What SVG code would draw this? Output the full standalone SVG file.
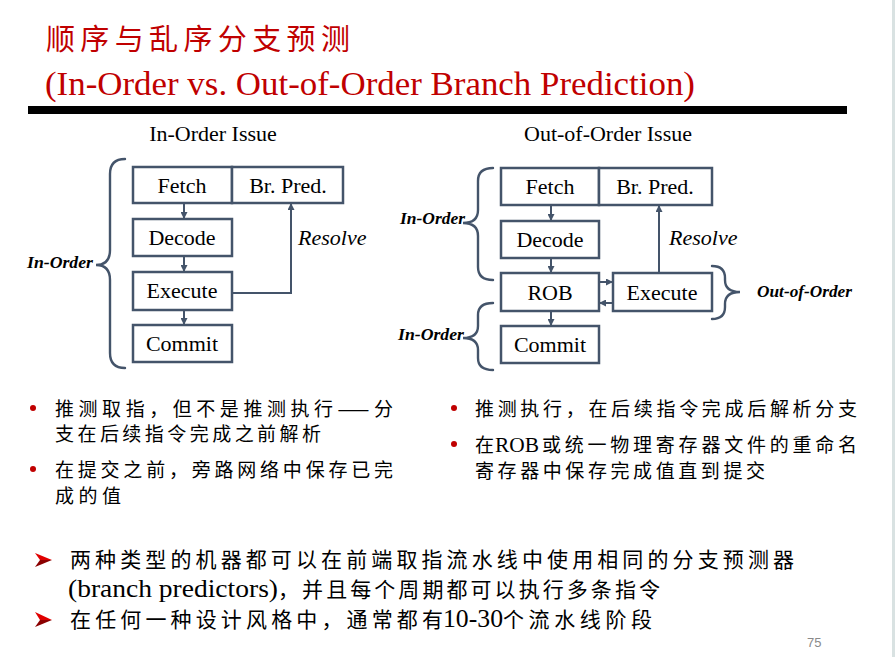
<svg xmlns="http://www.w3.org/2000/svg" width="895" height="657" viewBox="0 0 895 657">
<style>
.cjk{font-family:"Noto Sans CJK SC","Noto Sans CJK JP",sans-serif;fill:#000}
.ser{font-family:"Liberation Serif","Times New Roman",serif;fill:#000}
.box{fill:#fff;stroke:#44546a;stroke-width:2.5}
.lbl{font-family:"Liberation Serif","Times New Roman",serif;font-size:22px;fill:#000;text-anchor:middle}
.conn{fill:none;stroke:#44546a;stroke-width:2}
.brace{fill:none;stroke:#44546a;stroke-width:2.4;stroke-linecap:round}
.bi{font-family:"Liberation Serif","Times New Roman",serif;font-size:17px;font-weight:bold;font-style:italic;fill:#000}
.it{font-family:"Liberation Serif","Times New Roman",serif;font-size:22px;font-style:italic;fill:#000}
.dot{fill:#c00000}
.title{fill:#c00000}
</style>
<defs>
<marker id="ah" viewBox="0 0 8 8" refX="8" refY="4" markerWidth="7" markerHeight="7" markerUnits="userSpaceOnUse" orient="auto">
<path d="M0,0 L8,4 L0,8 z" fill="#44546a"/>
</marker>
</defs>
<rect width="895" height="657" fill="#fff"/>
<rect x="892" y="0" width="3" height="657" fill="#d9e2e2"/>

<g id="title">
<text class="cjk title" x="46" y="50" font-size="29" textLength="304" lengthAdjust="spacing">顺序与乱序分支预测</text>
<text class="ser title" x="45" y="95" font-size="33" textLength="650" lengthAdjust="spacingAndGlyphs">(In-Order vs. Out-of-Order Branch Prediction)</text>
<rect x="28" y="106" width="819" height="8" fill="#000"/>
</g>

<g id="left-diagram">
<text class="lbl" x="213" y="141">In-Order Issue</text>
<g id="l-fetch"><rect class="box" x="133" y="167" width="99" height="36"/><text class="lbl" x="182" y="193">Fetch</text></g>
<g id="l-brpred"><rect class="box" x="232" y="167" width="111" height="36"/><text class="lbl" x="288" y="193">Br. Pred.</text></g>
<g id="l-decode"><rect class="box" x="133" y="219" width="99" height="37"/><text class="lbl" x="182" y="245">Decode</text></g>
<g id="l-execute"><rect class="box" x="133" y="272" width="99" height="38"/><text class="lbl" x="182" y="298">Execute</text></g>
<g id="l-commit"><rect class="box" x="133" y="325" width="99" height="37"/><text class="lbl" x="182" y="351">Commit</text></g>
<g id="l-brace">
<path class="brace" d="M125,159 Q110,159 110,174 L110,250 Q110,265 96,265 Q110,265 110,280 L110,353 Q110,368 125,368"/>
<text class="bi" x="27" y="268" textLength="66" lengthAdjust="spacingAndGlyphs">In-Order</text>
</g>
<text class="it" x="298" y="245">Resolve</text>
</g>

<g id="right-diagram">
<text class="lbl" x="608" y="141">Out-of-Order Issue</text>
<g id="r-fetch"><rect class="box" x="501" y="168" width="98" height="37"/><text class="lbl" x="550" y="194">Fetch</text></g>
<g id="r-brpred"><rect class="box" x="599" y="168" width="113" height="37"/><text class="lbl" x="655" y="194">Br. Pred.</text></g>
<g id="r-decode"><rect class="box" x="501" y="221" width="98" height="37"/><text class="lbl" x="550" y="247">Decode</text></g>
<g id="r-rob"><rect class="box" x="501" y="273" width="98" height="38"/><text class="lbl" x="550" y="300">ROB</text></g>
<g id="r-execute"><rect class="box" x="613" y="273" width="99" height="38"/><text class="lbl" x="662" y="300">Execute</text></g>
<g id="r-commit"><rect class="box" x="501" y="326" width="98" height="37"/><text class="lbl" x="550" y="352">Commit</text></g>
<g id="r-braces">
<path class="brace" d="M493,168 Q478,168 478,181 L478,210 Q478,223 463,223 Q478,223 478,236 L478,267 Q478,280 493,280"/>
<text class="bi" x="400" y="224" textLength="65" lengthAdjust="spacingAndGlyphs">In-Order</text>
<path class="brace" d="M493,303 Q478,303 478,315 L478,326 Q478,338 463,338 Q478,338 478,350 L478,358 Q478,370 493,370"/>
<text class="bi" x="398" y="340" textLength="66" lengthAdjust="spacingAndGlyphs">In-Order</text>
<path class="brace" d="M712,266 Q725,266 725,278 L725,280 Q725,292 740,292 Q725,292 725,304 L725,307 Q725,319 712,319"/>
<text class="bi" x="757" y="297" textLength="95" lengthAdjust="spacingAndGlyphs">Out-of-Order</text>
</g>
<text class="it" x="669" y="245">Resolve</text>
</g>

<g id="connectors">
<line class="conn" x1="184" y1="203" x2="184" y2="219" marker-end="url(#ah)"/>
<line class="conn" x1="184" y1="256" x2="184" y2="272" marker-end="url(#ah)"/>
<line class="conn" x1="184" y1="310" x2="184" y2="325" marker-end="url(#ah)"/>
<path class="conn" d="M232,293 H291 V203" marker-end="url(#ah)"/>
<line class="conn" x1="551" y1="205" x2="551" y2="221" marker-end="url(#ah)"/>
<line class="conn" x1="551" y1="258" x2="551" y2="273" marker-end="url(#ah)"/>
<line class="conn" x1="551" y1="311" x2="551" y2="326" marker-end="url(#ah)"/>
<line class="conn" x1="599" y1="282" x2="613" y2="282" marker-end="url(#ah)"/>
<line class="conn" x1="613" y1="303" x2="599" y2="303" marker-end="url(#ah)"/>
<line class="conn" x1="659" y1="273" x2="659" y2="205" marker-end="url(#ah)"/>
</g>

<g id="left-bullets">
<circle class="dot" cx="33" cy="408" r="3"/>
<text class="cjk" x="55" y="415.5" font-size="19" textLength="338" lengthAdjust="spacing">推测取指，但不是推测执行——分</text>
<text class="cjk" x="55" y="441" font-size="19" textLength="266" lengthAdjust="spacing">支在后续指令完成之前解析</text>
<circle class="dot" cx="33" cy="469" r="3"/>
<text class="cjk" x="55" y="477" font-size="19" textLength="338" lengthAdjust="spacing">在提交之前，旁路网络中保存已完</text>
<text class="cjk" x="55" y="503" font-size="19" textLength="66" lengthAdjust="spacing">成的值</text>
</g>

<g id="right-bullets">
<circle class="dot" cx="454" cy="408" r="3"/>
<text class="cjk" x="475" y="415.5" font-size="19" textLength="382" lengthAdjust="spacing">推测执行，在后续指令完成后解析分支</text>
<circle class="dot" cx="454" cy="444" r="3"/>
<text class="cjk" x="475" y="452" font-size="19">在</text>
<text class="ser" x="495" y="452" font-size="21" textLength="44" lengthAdjust="spacingAndGlyphs">ROB</text>
<text class="cjk" x="542" y="452" font-size="19" textLength="315" lengthAdjust="spacing">或统一物理寄存器文件的重命名</text>
<text class="cjk" x="475" y="477.5" font-size="19" textLength="290" lengthAdjust="spacing">寄存器中保存完成值直到提交</text>
</g>

<g id="bottom-bullets">
<polygon points="35,553 52,560 40,560" fill="#e00000"/>
<polygon points="35,567 52,560 40,560" fill="#8b0000"/>
<text class="cjk" x="70" y="567" font-size="21" textLength="724" lengthAdjust="spacing">两种类型的机器都可以在前端取指流水线中使用相同的分支预测器</text>
<text class="ser" x="68" y="597" font-size="25" textLength="210" lengthAdjust="spacingAndGlyphs">(branch predictors)</text>
<text class="cjk" x="278" y="597" font-size="21" textLength="382" lengthAdjust="spacing">，并且每个周期都可以执行多条指令</text>
<polygon points="35,612 52,620 40,620" fill="#e00000"/>
<polygon points="35,627 52,620 40,620" fill="#8b0000"/>
<text class="cjk" x="70" y="627" font-size="21" textLength="373" lengthAdjust="spacing">在任何一种设计风格中，通常都有</text>
<text class="ser" x="443" y="627" font-size="25" textLength="60" lengthAdjust="spacingAndGlyphs">10-30</text>
<text class="cjk" x="503" y="627" font-size="21" textLength="149" lengthAdjust="spacing">个流水线阶段</text>
<text x="807" y="647" font-family="Liberation Sans, Arial, sans-serif" font-size="13" fill="#8a8a8a">75</text>
</g>
</svg>
